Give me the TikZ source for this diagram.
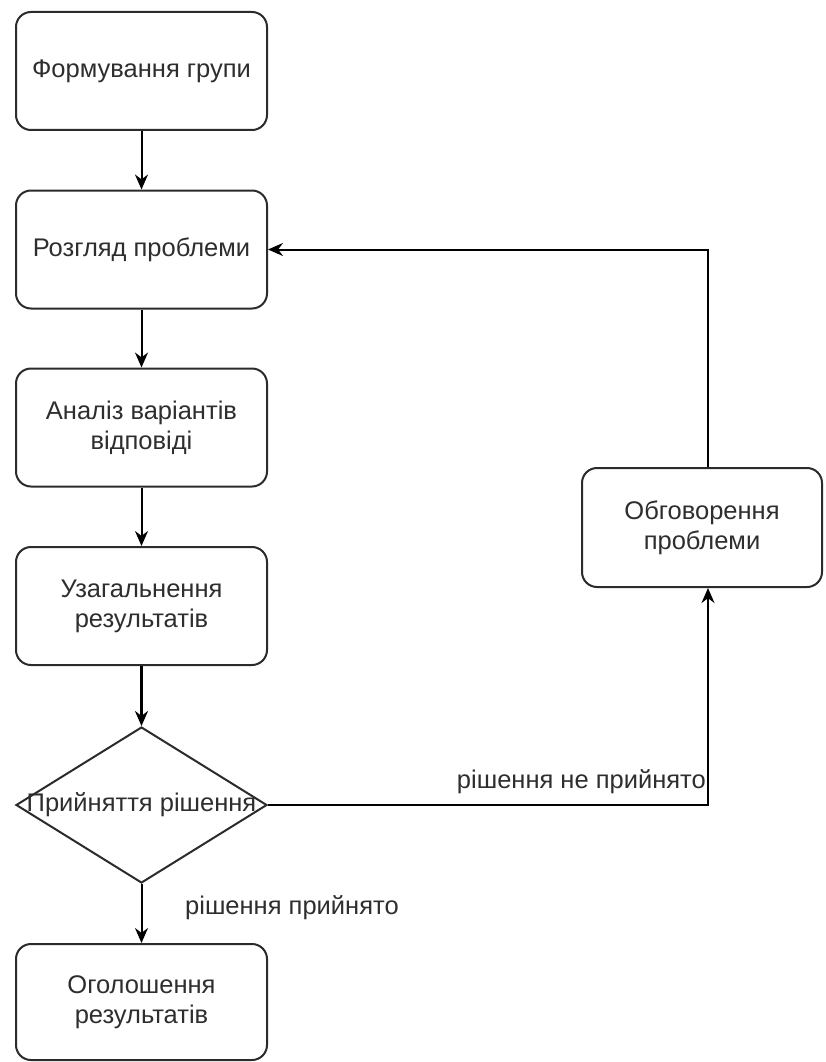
\documentclass[tikz,border=0pt]{standalone}
\usepackage{fontspec}
\setmainfont{Liberation Sans}
\usetikzlibrary{arrows.meta,shapes.geometric}

\definecolor{ink}{HTML}{2E2E2E}
\definecolor{edge}{HTML}{2B2B2B}

\tikzset{
  stepbox/.style={draw=edge, line width=2pt, rounded corners=15pt, fill=white,
    minimum width=251pt, minimum height=118pt, align=center, text=ink,
    inner sep=0pt, font=\fontsize{25.5}{30}\selectfont},
  decision/.style={draw=edge, line width=2pt, diamond, inner sep=0pt,
    minimum width=251pt, minimum height=156pt},
  flow/.style={draw=black, line width=2pt, -{Stealth[length=15pt,width=13pt]}},
  heavyflow/.style={flow, line width=3.4pt},
  edgelabel/.style={text=ink, inner sep=0pt, font=\fontsize{25.5}{30}\selectfont},
}

\begin{document}
\begin{tikzpicture}[x=1pt,y=-1pt]
  \useasboundingbox (0,0) rectangle (825,1062);

  % main column
  \node[stepbox] (form)  at (141.5,71)   {Формування групи};
  \node[stepbox] (look)  at (141.5,249.5){Розгляд проблеми};
  \node[stepbox] (anal)  at (141.5,427.5){Аналіз варіантів\\відповіді};
  \node[stepbox] (summ)  at (141.5,606)  {Узагальнення\\результатів};
  \node[decision] (dec)  at (141.5,805)  {};
  \node[edgelabel] (dectext) at (dec.center) {Прийняття рішення};
  \node[stepbox, minimum height=116pt] (ann) at (141.5,1002) {Оголошення\\результатів};

  % side branch
  \node[stepbox, minimum width=240pt, minimum height=119pt] (disc) at (702,527.5) {Обговорення\\проблеми};
  \coordinate (rail) at (708,0);

  % connectors
  \draw[flow] (form) -- (look);
  \draw[flow] (look) -- (anal);
  \draw[flow] (anal) -- (summ);
  \draw[heavyflow] (summ) -- (dec);
  \draw[flow] (dec) -- (ann);
  \draw[flow] (dec.east) -| (disc.south -| rail);
  \draw[flow] (disc.north -| rail) |- (look.east);

  % branch labels
  \node[edgelabel, anchor=east] (nolabel) at (706,782) {рішення не прийнято};
  \node[edgelabel, anchor=west] (yeslabel) at (185,908) {рішення прийнято};
\end{tikzpicture}
\end{document}
